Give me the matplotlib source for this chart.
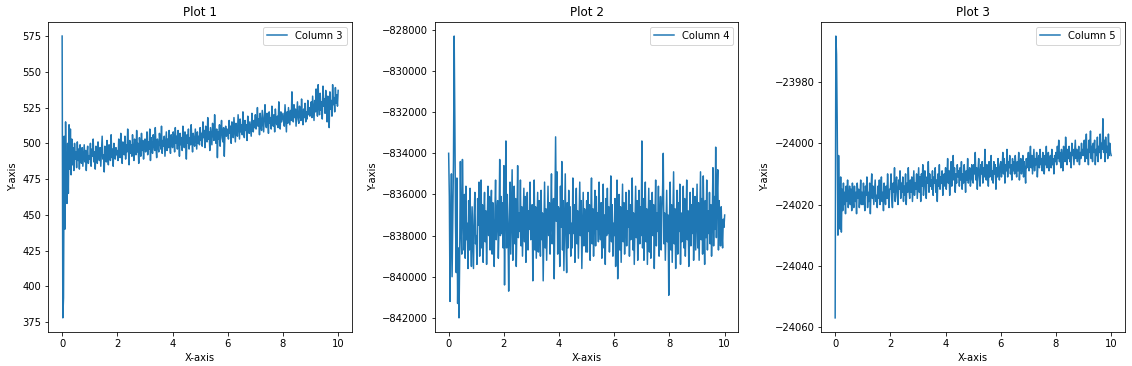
import numpy as np
import matplotlib
matplotlib.use('Agg')
import matplotlib.pyplot as plt

col3 = [575, 378, 392, 505, 440, 515, 470, 458, 500, 465, 513, 482, 510, 478, 503, 485, 497, 481, 500, 489,
        494, 483, 501, 488, 496, 482, 499, 490, 486, 497, 484, 492, 499, 487, 495, 481, 493, 498, 486, 491,
        489, 500, 484, 496, 491, 503, 487, 494, 482, 498, 490, 486, 501, 493, 488, 497, 484, 495, 505, 489,
        492, 480, 498, 494, 487, 502, 491, 485, 499, 493, 488, 506, 490, 496, 484, 500, 494, 489, 497, 492,
        495, 488, 503, 497, 490, 507, 493, 486, 501, 498, 492, 505, 489, 499, 494, 510, 496, 485, 502, 493,
        499, 491, 506, 495, 488, 503, 497, 492, 509, 494, 500, 486, 504, 498, 491, 507, 495, 502, 489, 499,
        503, 494, 499, 508, 492, 501, 496, 510, 488, 504, 498, 493, 506, 500, 495, 511, 497, 490, 503, 499,
        494, 507, 501, 496, 512, 493, 502, 498, 505, 491, 500, 508, 495, 503, 497, 509, 499, 493, 506, 501,
        497, 508, 502, 494, 511, 500, 505, 496, 509, 503, 491, 507, 499, 504, 495, 512, 501, 497, 508, 502,
        489, 506, 500, 510, 496, 504, 499, 513, 502, 494, 507, 501, 498, 510, 503, 496, 508, 500, 505, 499,
        511, 502, 507, 498, 515, 504, 509, 497, 512, 506, 501, 518, 503, 508, 495, 511, 505, 499, 514, 507,
        502, 520, 506, 500, 510, 490, 508, 503, 513, 498, 509, 516, 504, 501, 511, 491, 507, 512, 505, 510,
        509, 503, 516, 507, 512, 500, 515, 508, 504, 518, 510, 501, 514, 509, 505, 520, 511, 503, 517, 508,
        513, 506, 522, 510, 504, 516, 509, 513, 502, 519, 511, 507, 515, 510, 505, 521, 512, 508, 516, 511,
        520, 510, 514, 525, 512, 517, 506, 521, 513, 509, 523, 515, 508, 519, 527, 513, 511, 521, 516, 507,
        522, 514, 518, 510, 526, 515, 512, 520, 508, 524, 516, 513, 519, 511, 529, 517, 510, 522, 515, 518,
        521, 515, 512, 527, 518, 508, 522, 514, 525, 519, 513, 523, 516, 536, 520, 515, 527, 518, 524, 512,
        521, 529, 517, 514, 526, 520, 516, 531, 519, 513, 524, 518, 528, 515, 522, 517, 530, 520, 525, 519,
        522, 529, 518, 533, 524, 516, 530, 522, 538, 526, 519, 541, 527, 520, 535, 523, 529, 517, 540, 526,
        531, 521, 537, 525, 515, 533, 528, 511, 536, 524, 530, 519, 541, 527, 532, 522, 539, 528, 534, 526,
        537]

col4 = [-834000, -836100, -841200, -837800, -835000, -840000, -837000, -834400, -828300, -832500,
        -837500, -839800, -835200, -841300, -838600, -842000, -839000, -834400, -837700, -838900,
        -834300, -836800, -838700, -836000, -839100, -835600, -838200, -837400, -839600, -836300,
        -838700, -835700, -837900, -839500, -836600, -838000, -839600, -837000, -835900, -838400,
        -838000, -839400, -836200, -837500, -835400, -839000, -837300, -835300, -838600, -836500,
        -839300, -837100, -835900, -838300, -836800, -839400, -837200, -835600, -838000, -836100,
        -838700, -837000, -835800, -838900, -836400, -837600, -839500, -836900, -835300, -838200,
        -837100, -836300, -839100, -837500, -834300, -838000, -836100, -837900, -836400, -838600,
        -834600, -840400, -836300, -833400, -838600, -836000, -837600, -840700, -837500, -835400,
        -838900, -836700, -834800, -839200, -837000, -835600, -838400, -836200, -839500, -837300,
        -834600, -838100, -836900, -837800, -835300, -838500, -836600, -839000, -837400, -835700,
        -838300, -836100, -839300, -837000, -835900, -838700, -836800, -837700, -835400, -838200,
        -838100, -836500, -840200, -837200, -835300, -838700, -836600, -839100, -837500, -835900,
        -838800, -836300, -837400, -839000, -835800, -838200, -836900, -840200, -837800, -835400,
        -838600, -836700, -839200, -837300, -835600, -838000, -836400, -838900, -837100, -835000,
        -838400, -837800, -836200, -840100, -836800, -833200, -837300, -834900, -838900, -836600,
        -836800, -839500, -835600, -837600, -834400, -838700, -836300, -839700, -837400, -835000,
        -838200, -839800, -836400, -838600, -835800, -837900, -836600, -839000, -837400, -838600,
        -835200, -837900, -836500, -839300, -837000, -835700, -838400, -836800, -839100, -837300,
        -835400, -838000, -836300, -839600, -837600, -835900, -838500, -836700, -837200, -838800,
        -836300, -838800, -835900, -837800, -836500, -839200, -837000, -835200, -838400, -836700,
        -839000, -837200, -835800, -838500, -836100, -837700, -836900, -838300, -835400, -837600,
        -838200, -836400, -839100, -836800, -835500, -838600, -837000, -839400, -836200, -838000,
        -835700, -837900, -836600, -838800, -837300, -835100, -838300, -836500, -839000, -837400,
        -838000, -836200, -839500, -837200, -835300, -840100, -837400, -836000, -838700, -836600,
        -839300, -837300, -835500, -838300, -836400, -838900, -837100, -835900, -838500, -836800,
        -837600, -835800, -839000, -836500, -838200, -837000, -835200, -838700, -836900, -839400,
        -837400, -835600, -838100, -836300, -839200, -837100, -835800, -838400, -836600, -838000,
        -833400, -838600, -836200, -839200, -837000, -835400, -838300, -836700, -839400, -837500,
        -835700, -838800, -836300, -839100, -837300, -835900, -838000, -836500, -839600, -837200,
        -835300, -838500, -836900, -837800, -835600, -839000, -837400, -836100, -838700, -836800,
        -835900, -834000, -838400, -836900, -839200, -837500, -835800, -838300, -837000, -840900,
        -837200, -835400, -838700, -836500, -839300, -837000, -834900, -838400, -836700, -839600,
        -837200, -835800, -838900, -836400, -837800, -835500, -839400, -836900, -838300, -837100,
        -835600, -838600, -836200, -839000, -837400, -835300, -838200, -836800, -839500, -837000,
        -835900, -838500, -836500, -837900, -835700, -839200, -837300, -836100, -838700, -837000,
        -835500, -838600, -836400, -839200, -836900, -834900, -838200, -836200, -838900, -835100,
        -837600, -839400, -836300, -838100, -835300, -838700, -836800, -837900, -835900, -838400,
        -836500, -839000, -837200, -834700, -838500, -836100, -837700, -833700, -838100, -836000,
        -834800, -838700, -836300, -837300, -838500, -836600, -837900, -838600, -837200, -837600,
        -837000]

col5 = [-24057, -23965, -23971, -23994, -24030, -24004, -24022, -24028, -24011, -24029,
        -24015, -24022, -24013, -24020, -24016, -24023, -24014, -24019, -24012, -24021,
        -24017, -24014, -24020, -24015, -24022, -24013, -24018, -24021, -24014, -24019,
        -24016, -24023, -24013, -24018, -24015, -24021, -24017, -24012, -24020, -24016,
        -24020, -24013, -24018, -24022, -24014, -24017, -24011, -24021, -24016, -24019,
        -24013, -24023, -24015, -24010, -24018, -24014, -24020, -24016, -24012, -24019,
        -24017, -24021, -24014, -24018, -24012, -24020, -24015, -24011, -24019, -24016,
        -24022, -24013, -24017, -24020, -24014, -24018, -24010, -24016, -24021, -24015,
        -24015, -24010, -24018, -24021, -24013, -24016, -24008, -24019, -24014, -24011,
        -24017, -24020, -24012, -24015, -24009, -24018, -24013, -24016, -24011, -24019,
        -24014, -24017, -24010, -24020, -24013, -24016, -24008, -24015, -24018, -24012,
        -24016, -24011, -24019, -24014, -24009, -24017, -24013, -24015, -24010, -24018,
        -24013, -24008, -24016, -24011, -24019, -24010, -24014, -24007, -24017, -24012,
        -24009, -24015, -24018, -24011, -24013, -24006, -24016, -24010, -24014, -24012,
        -24015, -24009, -24017, -24011, -24013, -24008, -24016, -24012, -24019, -24010,
        -24014, -24007, -24015, -24011, -24013, -24009, -24017, -24012, -24010, -24014,
        -24008, -24015, -24011, -24005, -24013, -24009, -24017, -24010, -24006, -24014,
        -24011, -24004, -24012, -24008, -24016, -24010, -24013, -24007, -24011, -24009,
        -24014, -24008, -24012, -24006, -24015, -24010, -24013, -24007, -24011, -24016,
        -24009, -24012, -24005, -24013, -24010, -24008, -24014, -24011, -24007, -24012,
        -24013, -24007, -24010, -24003, -24012, -24008, -24015, -24009, -24005, -24011,
        -24014, -24007, -24010, -24006, -24013, -24008, -24011, -24002, -24009, -24012,
        -24007, -24010, -24014, -24006, -24011, -24008, -24004, -24012, -24009, -24013,
        -24006, -24010, -24007, -24015, -24008, -24011, -24005, -24009, -24012, -24007,
        -24006, -24011, -24008, -24003, -24010, -24005, -24013, -24007, -24009, -24002,
        -24011, -24006, -24008, -24004, -24010, -24007, -24012, -24005, -24009, -24006,
        -24010, -24004, -24008, -24011, -24006, -24009, -24003, -24012, -24007, -24005,
        -24010, -24008, -24004, -24011, -24006, -24009, -24013, -24005, -24008, -24006,
        -24003, -24009, -24006, -24001, -24008, -24004, -24010, -24006, -24002, -24009,
        -24005, -24007, -24003, -24011, -24006, -24004, -24008, -24002, -24007, -24005,
        -24009, -24003, -24006, -24010, -24004, -24007, -24001, -24008, -24005, -24003,
        -24009, -24006, -24004, -24008, -24002, -24007, -24005, -24010, -24004, -24006,
        -24003, -24007, -24001, -24005, -23999, -24006, -24003, -24008, -24002, -24005,
        -24009, -24001, -24004, -24006, -23998, -24003, -24007, -24002, -24005, -24001,
        -24006, -24003, -24008, -24000, -24004, -24002, -24007, -24003, -23999, -24005,
        -24002, -24006, -24004, -24001, -24007, -24003, -24005, -24000, -24004, -24002,
        -24004, -23999, -24006, -24001, -23997, -24005, -24002, -24007, -23999, -24003,
        -23996, -24005, -24001, -24006, -24000, -24003, -23999, -24007, -24002, -24004,
        -23998, -24006, -24001, -24003, -23997, -24005, -24000, -24002, -23992, -24003,
        -23999, -24006, -23998, -24003, -24001, -24005, -23997, -24004, -24000, -24003,
        -24004]

series = [col3, col4, col5]
labels = ['Column 3', 'Column 4', 'Column 5']
titles = ['Plot 1', 'Plot 2', 'Plot 3']

fig, axes = plt.subplots(1, 3, figsize=(1132 / 72, 366 / 72), dpi=72)
fig.subplots_adjust(left=0.0427, right=0.9938, bottom=0.093, top=0.940, wspace=0.273)

for ax, y, lab, title in zip(axes, series, labels, titles):
    x = np.linspace(0, 10, len(y))
    ax.plot(x, y, color='#1f77b4', label=lab)
    ax.set_title(title)
    ax.set_xlabel('X-axis')
    ax.set_ylabel('Y-axis')
    ax.ticklabel_format(axis='y', useOffset=False, style='plain')
    ax.legend(loc='upper right')

plt.savefig('out.png', dpi=72)
